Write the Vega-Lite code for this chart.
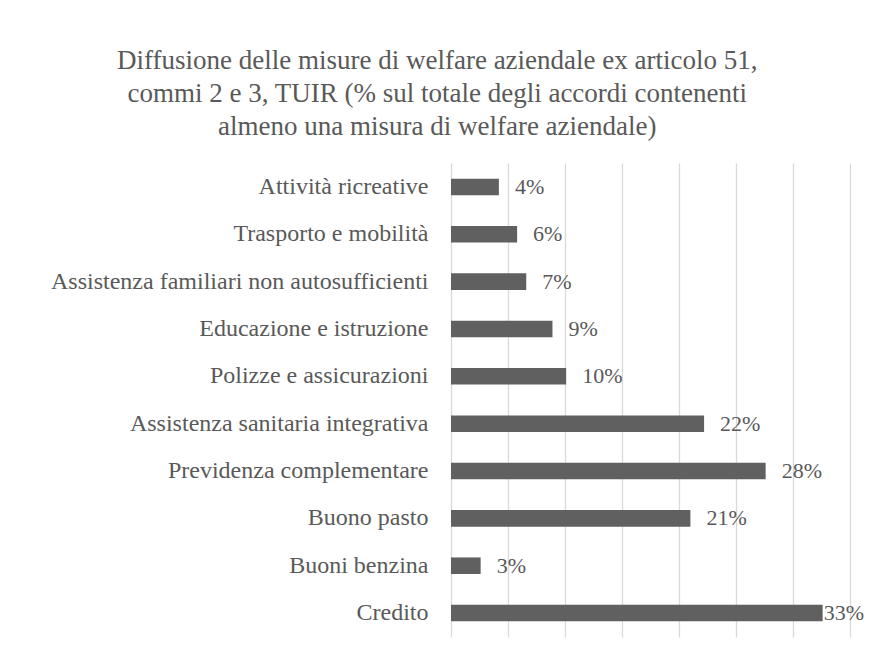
{
  "$schema": "https://vega.github.io/schema/vega-lite/v6.json",
  "width": 399,
  "height": 474,
  "autosize": {"type": "none"},
  "padding": {"left": 451, "top": 163, "right": 19, "bottom": 22},
  "background": "white",
  "title": {
    "text": ["Diffusione delle misure di welfare aziendale ex articolo 51,", "commi 2 e 3, TUIR (% sul totale degli accordi contenenti", "almeno una misura di welfare aziendale)"],
    "anchor": "middle",
    "frame": "bounds",
    "fontSize": 27,
    "fontWeight": "normal",
    "color": "#595959",
    "lineHeight": 33,
    "offset": 22,
    "dx": -20,
    "font": "Liberation Serif"
  },
  "config": {
    "font": "Liberation Serif",
    "view": {"stroke": null}
  },
  "data": {
    "values": [
      {"misura": "Attività ricreative", "value": 0.042},
      {"misura": "Trasporto e mobilità", "value": 0.058},
      {"misura": "Assistenza familiari non autosufficienti", "value": 0.066},
      {"misura": "Educazione e istruzione", "value": 0.089},
      {"misura": "Polizze e assicurazioni", "value": 0.101},
      {"misura": "Assistenza sanitaria integrativa", "value": 0.222},
      {"misura": "Previdenza complementare", "value": 0.276},
      {"misura": "Buono pasto", "value": 0.21},
      {"misura": "Buoni benzina", "value": 0.026},
      {"misura": "Credito", "value": 0.326}
    ]
  },
  "encoding": {
    "y": {
      "field": "misura",
      "type": "nominal",
      "sort": null,
      "scale": {"paddingInner": 0.65, "paddingOuter": 0.33},
      "axis": {
        "title": null,
        "ticks": false,
        "domain": false,
        "labelFontSize": 24,
        "labelColor": "#595959",
        "labelPadding": 23,
        "labelLimit": 500,
        "labelFont": "Liberation Serif"
      }
    },
    "x": {
      "field": "value",
      "type": "quantitative",
      "scale": {"domain": [0, 0.35], "nice": false},
      "axis": {
        "title": null,
        "labels": false,
        "ticks": false,
        "domain": false,
        "grid": true,
        "gridColor": "#d9d9d9",
        "gridWidth": 1.3,
        "values": [0, 0.05, 0.1, 0.15, 0.2, 0.25, 0.3, 0.35]
      }
    }
  },
  "layer": [
    {"mark": {"type": "bar", "color": "#606060"}},
    {
      "transform": [{"filter": "datum.value < 0.3"}],
      "mark": {"type": "text", "align": "left", "baseline": "middle", "dx": 16, "fontSize": 22, "color": "#595959", "font": "Liberation Serif"},
      "encoding": {"text": {"field": "value", "type": "quantitative", "format": ".0%"}}
    },
    {
      "transform": [{"filter": "datum.value >= 0.3"}],
      "mark": {"type": "text", "align": "left", "baseline": "middle", "dx": 1, "fontSize": 22, "color": "#595959", "font": "Liberation Serif"},
      "encoding": {"text": {"field": "value", "type": "quantitative", "format": ".0%"}}
    }
  ]
}
